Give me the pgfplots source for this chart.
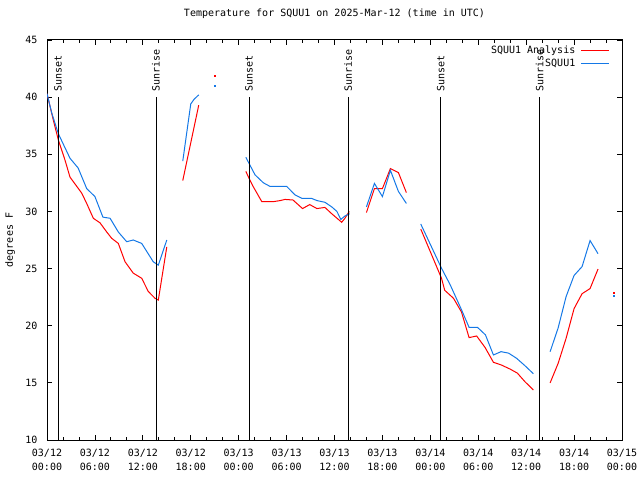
\documentclass[border=0pt]{standalone}
\usepackage{pgfplots}
\pgfplotsset{compat=1.18}
\usepackage{fontspec}
\setmainfont{DejaVu Sans Mono}
\definecolor{anred}{RGB}{255,0,0}
\definecolor{obsblue}{RGB}{20,120,230}
\newcommand{\gfont}{\fontsize{10bp}{14bp}\selectfont}
\begin{document}
\gfont
\begin{tikzpicture}
\begin{axis}[
  at={(0,0)}, anchor=south west,
  scale only axis, width=575bp, height=400bp,
  xmin=0, xmax=72, ymin=10, ymax=45,
  xtick={0,6,...,72}, minor x tick num=2,
  xticklabels={{03/12\\00:00},{03/12\\06:00},{03/12\\12:00},{03/12\\18:00},
    {03/13\\00:00},{03/13\\06:00},{03/13\\12:00},{03/13\\18:00},
    {03/14\\00:00},{03/14\\06:00},{03/14\\12:00},{03/14\\18:00},{03/15\\00:00}},
  ytick={10,15,...,45},
  tick align=inside, major tick length=5bp, minor tick length=3bp,
  tick style={black, line width=0.8bp},
  axis line style={black, line width=1bp},
  /pgf/number format/assume math mode=true,
  tick label style={font=\gfont},
  x tick label style={align=center, yshift=-6bp},
  y tick label style={xshift=-6bp},
  title={Temperature for SQUU1 on 2025-Mar-12 (time in UTC)},
  title style={at={(axis description cs:0.5,1)}, anchor=center, yshift=20bp, font=\gfont},
  ylabel={degrees F},
  ylabel style={at={(axis description cs:-0.0643,0.5)}, anchor=center, font=\gfont},
  unbounded coords=jump,
  legend style={draw=none, fill=none, inner sep=0pt,
    at={(axis description cs:1,1)}, anchor=north east, xshift=-12bp, yshift=-3.5bp,
    nodes={inner sep=1.5bp, text height=8bp, text depth=2bp, font=\gfont},
    column sep=4bp},
  legend cell align=right,
  legend plot pos=right,
  legend image code/.code={\draw[#1] (0bp,0bp) -- (28bp,0bp);},
]
\addplot[anred, line width=1bp] coordinates {
(0,40.3) (0.79,38.0) (1.42,36.25) (2.25,34.5) (2.88,33.0) (3.3,32.6) (4.35,31.6)
(4.97,30.7) (5.8,29.4) (6.64,29.0) (7.48,28.2) (8.1,27.65) (8.93,27.2) (9.77,25.6)
(10.8,24.6) (11.86,24.15) (12.68,23.0) (13.52,22.4) (13.94,22.25) (15,26.9)
(16,nan)
(17,32.7) (18,36.0) (19,39.3)
(20,nan)
(24.9,33.5) (25.4,32.75) (25.8,32.2) (26.9,30.85) (28.3,30.85) (29.2,30.95)
(29.8,31.05) (30.8,31.0) (32.0,30.25) (32.9,30.6) (33.8,30.25) (34.8,30.35)
(35.65,29.8) (36.9,29.05) (37.3,29.4) (37.85,30.0)
(39,nan)
(40,29.9) (41,32.0) (42,32.0) (43,33.75) (44,33.4) (45,31.65)
(46,nan)
(46.8,28.46) (49.4,24.15) (49.8,23.1) (50.9,22.4) (51.9,21.2) (52.85,18.96)
(53.8,19.1) (54.85,18.1) (55.9,16.8) (56.9,16.56) (58,16.2) (58.9,15.85)
(59.85,15.1) (60.9,14.38)
(62,nan)
(63,15.0) (64,16.7) (65,18.9) (66,21.5) (67,22.8) (68,23.25) (69,24.96)
};
\addlegendentry{SQUU1 Analysis}
\addplot[obsblue, line width=1bp] coordinates {
(0,40.3) (0.6,38.6) (1.42,36.8) (2.88,34.65) (3.9,33.8) (4.97,32.0) (6.0,31.3)
(7.0,29.5) (7.9,29.4) (8.93,28.2) (9.98,27.35) (10.8,27.5) (11.86,27.2)
(13.3,25.6) (13.94,25.3) (15,27.5)
(16,nan)
(17,34.4) (18,39.4) (18.4,39.8) (19,40.2)
(20,nan)
(24.9,34.74) (25.3,34.2) (26.05,33.2) (27.1,32.5) (27.9,32.2) (30.0,32.2)
(31.05,31.45) (31.9,31.15) (33.1,31.15) (33.8,30.95) (34.8,30.8) (35.65,30.4)
(36.3,30.0) (36.8,29.3) (37.3,29.6) (37.9,29.8)
(39,nan)
(40,30.4) (41,32.45) (42,31.3) (43,33.6) (44,31.75) (45,30.7)
(46,nan)
(46.8,28.9) (49.4,25.03) (50.5,23.56) (51.9,21.4) (52.85,19.86) (53.9,19.86)
(54.9,19.2) (55.9,17.44) (56.85,17.73) (57.8,17.6) (58.8,17.15) (59.85,16.5)
(60.9,15.8)
(62,nan)
(63,17.73) (64,19.8) (65,22.55) (66,24.4) (67,25.17) (68,27.45) (69,26.3)
};
\addlegendentry{SQUU1}
\addplot[anred, only marks, mark=square*, mark size=0.6bp, forget plot] coordinates {(21,41.85) (71,22.9)};
\addplot[obsblue, only marks, mark=square*, mark size=0.6bp, forget plot] coordinates {(21,41.0) (71,22.6)};
\foreach \sx/\lab in {1.38/Sunset,13.65/Sunrise,25.3/Sunset,37.7/Sunrise,49.3/Sunset,61.7/Sunrise}{
  \edef\tmp{\noexpand\draw[black, line width=1bp] (axis cs:\sx,10) -- (axis cs:\sx,40.0);
    \noexpand\node[rotate=90, anchor=west, inner sep=0pt, font=\noexpand\gfont] at (axis cs:\sx,40.48) {\lab};}
  \tmp
}
\end{axis}
\pgfresetboundingbox
\path (-47bp,-40bp) rectangle (593bp,440bp);
\end{tikzpicture}
\end{document}
